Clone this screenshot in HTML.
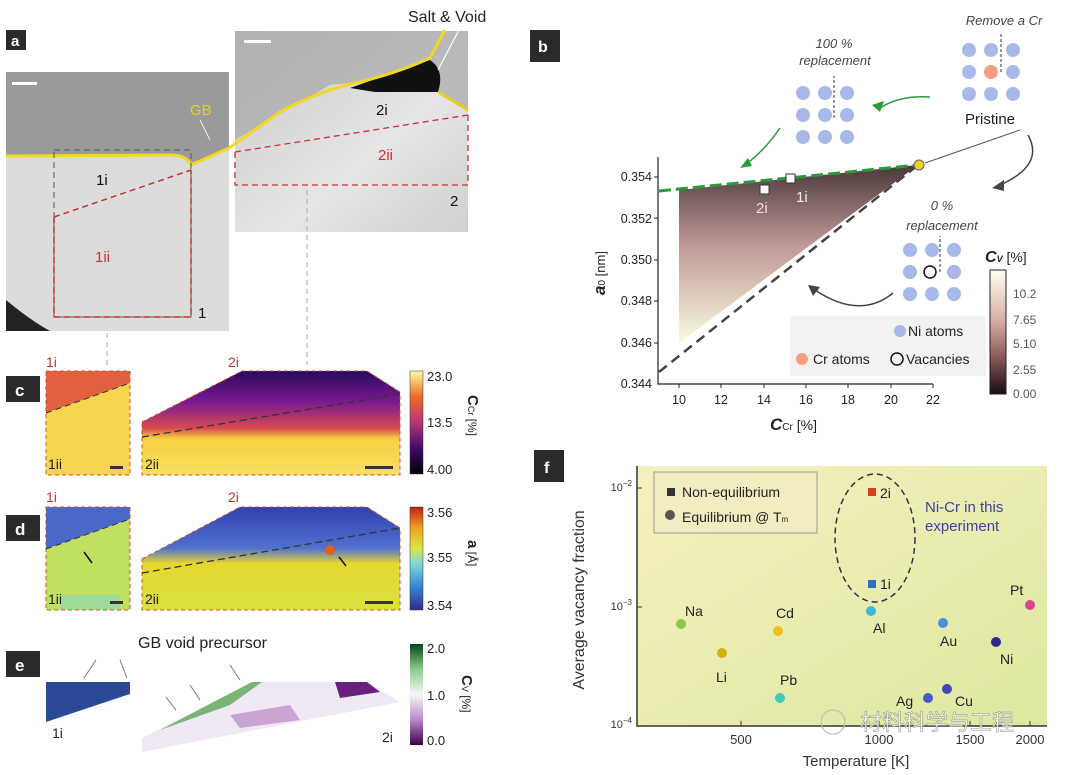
<!DOCTYPE html>
<html><head><meta charset="utf-8"><style>
html,body{margin:0;padding:0;background:#fff;}
svg{display:block;font-family:"Liberation Sans","Noto Sans CJK SC",sans-serif;}
</style></head><body>
<svg width="1068" height="775" viewBox="0 0 1068 775" xmlns="http://www.w3.org/2000/svg">
<defs>
<linearGradient id="ccr" x1="0" y1="1" x2="0" y2="0"><stop offset="0" stop-color="#000004"/><stop offset="0.25" stop-color="#420a68"/><stop offset="0.5" stop-color="#b5367a"/><stop offset="0.75" stop-color="#ed6925"/><stop offset="1" stop-color="#fcffa4"/></linearGradient>
<linearGradient id="acb" x1="0" y1="1" x2="0" y2="0"><stop offset="0" stop-color="#2b2c8c"/><stop offset="0.25" stop-color="#3d8fd8"/><stop offset="0.45" stop-color="#7fd8d8"/><stop offset="0.6" stop-color="#d8e840"/><stop offset="0.8" stop-color="#f0a020"/><stop offset="1" stop-color="#c02010"/></linearGradient>
<linearGradient id="cvb" x1="0" y1="1" x2="0" y2="0"><stop offset="0" stop-color="#40004b"/><stop offset="0.25" stop-color="#b888c8"/><stop offset="0.5" stop-color="#f7f7f7"/><stop offset="0.75" stop-color="#8ccc88"/><stop offset="1" stop-color="#00441b"/></linearGradient>
<linearGradient id="bcb" x1="0" y1="1" x2="0" y2="0"><stop offset="0" stop-color="#1a0a0a"/><stop offset="0.3" stop-color="#8a5a5a"/><stop offset="0.6" stop-color="#d8b0a8"/><stop offset="1" stop-color="#fffff0"/></linearGradient>
<linearGradient id="btri" x1="0" y1="0" x2="0" y2="1"><stop offset="0" stop-color="#4a3838"/><stop offset="0.45" stop-color="#c09898"/><stop offset="1" stop-color="#fafae0"/></linearGradient>
<linearGradient id="fbg" x1="0" y1="0" x2="1" y2="1"><stop offset="0" stop-color="#f6f0c0"/><stop offset="1" stop-color="#dde8a0"/></linearGradient>
<linearGradient id="c2" x1="0" y1="0" x2="0" y2="1"><stop offset="0" stop-color="#2a0a60"/><stop offset="0.3" stop-color="#7a1a90"/><stop offset="0.55" stop-color="#d84a50"/><stop offset="0.65" stop-color="#f6d040"/><stop offset="1" stop-color="#f8e060"/></linearGradient>
<linearGradient id="d2" x1="0" y1="0" x2="0" y2="1"><stop offset="0" stop-color="#3040b0"/><stop offset="0.4" stop-color="#5070d0"/><stop offset="0.55" stop-color="#e8d830"/><stop offset="1" stop-color="#d8e040"/></linearGradient>
<linearGradient id="grayR" x1="0" y1="0" x2="1" y2="1"><stop offset="0" stop-color="#c8c8c8"/><stop offset="0.6" stop-color="#e6e6e6"/><stop offset="1" stop-color="#d0d0d0"/></linearGradient>
</defs>
<!-- panel a -->
<rect x="6" y="30" width="20" height="20" fill="#2a2a2a"/><text x="11" y="46" font-size="15" font-weight="bold" fill="#fff">a</text>
<rect x="6" y="72" width="223" height="259" fill="#dcdcdc"/>
<path d="M6 72 H229 V150 L191 163 Q185 155 170 155 L6 157 Z" fill="#9a9a9a"/>
<path d="M6 300 Q30 320 50 331 H6 Z" fill="#222"/>
<rect x="12" y="82" width="25" height="3" fill="#fff"/>
<path d="M6 156 L170 155 Q187 155 191 165 L229 148" stroke="#f2d820" stroke-width="3" fill="none"/>
<text x="190" y="115" font-size="15" fill="#e8d020">GB</text>
<path d="M200 120 L210 140" stroke="#eee" stroke-width="1"/>
<path d="M54 150 H191 V317 H54 Z" stroke="#555" stroke-dasharray="6,4" fill="none"/>
<path d="M54 217 L191 170 M54 217 V317 H191 V170" stroke="#c83030" stroke-width="1.5" stroke-dasharray="6,4" fill="none"/>
<text x="96" y="185" font-size="15" fill="#111">1i</text>
<text x="95" y="262" font-size="15" fill="#c83030">1ii</text>
<text x="198" y="318" font-size="15" fill="#111">1</text>
<rect x="235" y="31" width="233" height="201" fill="url(#grayR)"/>
<path d="M235 31 H468 V112 L440 92 L420 70 L380 80 L330 85 L235 140 Z" fill="#a8a8a8" opacity="0.7"/>
<path d="M350 88 Q400 70 430 60 Q445 70 438 92 L375 92 Z" fill="#111"/>
<rect x="244" y="40" width="27" height="3" fill="#fff"/>
<path d="M229 148 L280 112 Q320 90 360 82 Q400 72 430 58 L445 30" stroke="#f2d820" stroke-width="3" fill="none"/>
<path d="M438 92 L468 110" stroke="#e8d020" stroke-width="3"/>
<text x="408" y="22" font-size="16" fill="#222">Salt &amp; Void</text>
<path d="M460 28 L438 70" stroke="#fff" stroke-width="1.2"/>
<text x="376" y="115" font-size="15" fill="#111">2i</text>
<path d="M235 152 L468 115 M235 152 V185 H468 V115" stroke="#d03030" stroke-width="1.3" stroke-dasharray="6,4" fill="none"/>
<text x="378" y="160" font-size="15" fill="#d03030">2ii</text>
<text x="450" y="206" font-size="15" fill="#111">2</text>
<path d="M107 333 V365 M307 190 V365" stroke="#aaa" stroke-dasharray="5,4"/>
<!-- panel c -->
<rect x="6" y="376" width="34" height="26" fill="#2a2a2a"/><text x="15" y="396" font-size="17" font-weight="bold" fill="#fff">c</text>
<text x="46" y="367" font-size="14" fill="#c83030">1i</text><text x="228" y="367" font-size="14" fill="#c83030">2i</text>
<path d="M46 371 H130 V383 L46 413 Z" fill="#e06040"/>
<path d="M46 413 L130 383 V475 H46 Z" fill="#f6d450"/>
<path d="M46 371 H130 V475 H46 Z" stroke="#d05030" stroke-dasharray="4,3" fill="none"/>
<path d="M46 413 L130 383" stroke="#333" stroke-dasharray="6,4"/>
<text x="48" y="469" font-size="14" fill="#222">1ii</text><rect x="110" y="466" width="13" height="3" fill="#333"/>
<path d="M142 422 L242 371 H367 L400 392 V475 H142 Z" fill="url(#c2)"/>
<path d="M142 422 L242 371 H367 L400 392 V475 H142 Z" stroke="#d05030" stroke-dasharray="4,3" fill="none"/>
<path d="M142 437 L400 394" stroke="#333" stroke-width="1.3" stroke-dasharray="7,4"/>
<text x="145" y="469" font-size="14" fill="#222">2ii</text><rect x="365" y="466" width="28" height="3" fill="#333"/>
<rect x="410" y="371" width="13" height="103" fill="url(#ccr)" stroke="#333" stroke-width="0.5"/>
<text x="427" y="381" font-size="13" fill="#222">23.0</text><text x="427" y="427" font-size="13" fill="#222">13.5</text><text x="427" y="474" font-size="13" fill="#222">4.00</text>
<text transform="translate(468,395) rotate(90)" font-size="15" font-weight="bold" fill="#222">C<tspan font-size="9" font-weight="normal">Cr</tspan><tspan font-size="12" font-weight="normal"> [%]</tspan></text>
<!-- panel d -->
<rect x="6" y="515" width="34" height="26" fill="#2a2a2a"/><text x="15" y="535" font-size="17" font-weight="bold" fill="#fff">d</text>
<text x="46" y="502" font-size="14" fill="#c83030">1i</text><text x="228" y="502" font-size="14" fill="#c83030">2i</text>
<path d="M46 507 H130 V519 L46 549 Z" fill="#4a68c8"/>
<path d="M46 549 L130 519 V610 H46 Z" fill="#c0e060"/>
<path d="M60 595 H120 V610 H60 Z" fill="#90d8b0" opacity="0.7"/>
<path d="M46 507 H130 V610 H46 Z" stroke="#d05030" stroke-dasharray="4,3" fill="none"/>
<path d="M46 549 L130 519" stroke="#333" stroke-dasharray="6,4"/>
<path d="M92 563 L84 552" stroke="#111" stroke-width="1.5"/>
<text x="48" y="604" font-size="14" fill="#222">1ii</text><rect x="110" y="601" width="13" height="3" fill="#333"/>
<path d="M142 559 L240 507 H367 L400 528 V610 H142 Z" fill="url(#d2)"/>
<path d="M142 559 L240 507 H367 L400 528 V610 H142 Z" stroke="#d05030" stroke-dasharray="4,3" fill="none"/>
<path d="M142 573 L400 528" stroke="#333" stroke-width="1.3" stroke-dasharray="7,4"/>
<ellipse cx="330" cy="550" rx="5" ry="5" fill="#e06020"/>
<path d="M346 566 L339 557" stroke="#111" stroke-width="1.5"/>
<text x="145" y="604" font-size="14" fill="#222">2ii</text><rect x="365" y="601" width="28" height="3" fill="#333"/>
<rect x="410" y="507" width="13" height="103" fill="url(#acb)" stroke="#333" stroke-width="0.5"/>
<text x="427" y="517" font-size="13" fill="#222">3.56</text><text x="427" y="562" font-size="13" fill="#222">3.55</text><text x="427" y="610" font-size="13" fill="#222">3.54</text>
<text transform="translate(468,540) rotate(90)" font-size="15" font-weight="bold" fill="#222">a<tspan font-size="12" font-weight="normal"> [Å]</tspan></text>
<!-- panel e -->
<rect x="6" y="651" width="34" height="26" fill="#2a2a2a"/><text x="15" y="671" font-size="17" font-weight="bold" fill="#fff">e</text>
<text x="138" y="648" font-size="16" fill="#222">GB void precursor</text>
<path d="M46 682 H130 V694 L46 722 Z" fill="#2a4a98"/>
<path d="M142 738 L252 682 H367 L400 702 L142 752 Z" fill="#f0e8f4"/>
<path d="M160 730 L252 682 H262 L230 705 Z" fill="#5aa858" opacity="0.8"/>
<path d="M335 682 H367 L380 692 L340 698 Z" fill="#6a2080"/>
<path d="M230 715 L290 705 L300 720 L240 728 Z" fill="#b888c8" opacity="0.7"/>
<path d="M96 660 L84 678 M120 660 L127 678 M166 697 L176 710 M190 685 L200 700 M230 665 L240 680" stroke="#777" stroke-width="1"/>
<text x="52" y="738" font-size="14" fill="#222">1i</text><text x="382" y="742" font-size="14" fill="#222">2i</text>
<rect x="410" y="644" width="13" height="101" fill="url(#cvb)"/>
<text x="427" y="653" font-size="13" fill="#222">2.0</text><text x="427" y="700" font-size="13" fill="#222">1.0</text><text x="427" y="745" font-size="13" fill="#222">0.0</text>
<text transform="translate(462,675) rotate(90)" font-size="15" font-weight="bold" fill="#222">C<tspan font-size="9" font-weight="normal">V</tspan><tspan font-size="12" font-weight="normal"> [%]</tspan></text>
<!-- panel b -->
<rect x="530" y="30" width="30" height="32" fill="#2a2a2a"/><text x="538" y="52" font-size="16" font-weight="bold" fill="#fff">b</text>
<path d="M679 190 L918 165 L679 343 Z" fill="url(#btri)"/>
<path d="M659 191 L918 165" stroke="#2a9a3a" stroke-width="3" stroke-dasharray="12,5"/>
<path d="M659 372 L918 165" stroke="#444" stroke-width="2.5" stroke-dasharray="10,6"/>
<circle cx="919" cy="165" r="5" fill="#f0d020" stroke="#666"/>
<rect x="760" y="185" width="9" height="9" fill="#fff" stroke="#333"/><rect x="786" y="174" width="9" height="9" fill="#fff" stroke="#333"/>
<text x="756" y="213" font-size="15" fill="#f4dcdc">2i</text><text x="796" y="202" font-size="15" fill="#eee">1i</text>
<path d="M658 157 V384 H933" stroke="#222" stroke-width="1.2" fill="none"/>
<g font-size="12.5" fill="#222" text-anchor="end">
<text x="652" y="181">0.354</text><text x="652" y="223">0.352</text><text x="652" y="264">0.350</text><text x="652" y="305">0.348</text><text x="652" y="347">0.346</text><text x="652" y="388">0.344</text></g>
<g stroke="#222"><path d="M658 177h-4M658 218h-4M658 260h-4M658 301h-4M658 343h-4M679 384v4M721 384v4M764 384v4M806 384v4M848 384v4M891 384v4M933 384v4"/></g>
<g font-size="12.5" fill="#222" text-anchor="middle">
<text x="679" y="404">10</text><text x="721" y="404">12</text><text x="764" y="404">14</text><text x="806" y="404">16</text><text x="848" y="404">18</text><text x="891" y="404">20</text><text x="933" y="404">22</text></g>
<text x="770" y="430" font-size="17" font-weight="bold" fill="#222" font-style="italic">C<tspan font-size="10" font-weight="normal" font-style="normal">Cr</tspan><tspan font-size="14" font-weight="normal" font-style="normal"> [%]</tspan></text>
<text transform="translate(605,295) rotate(-90)" font-size="17" font-weight="bold" fill="#222" font-style="italic">a<tspan font-size="10" font-weight="normal" font-style="normal">0</tspan><tspan font-size="13" font-weight="normal" font-style="normal"> [nm]</tspan></text>
<rect x="790" y="316" width="196" height="60" fill="#f2f2f2"/>
<circle cx="900" cy="331" r="6" fill="#a8b8e8"/><text x="908" y="336" font-size="14" fill="#222">Ni atoms</text>
<circle cx="802" cy="359" r="6" fill="#f4a080"/><text x="813" y="364" font-size="14" fill="#222">Cr atoms</text>
<circle cx="897" cy="359" r="6" fill="none" stroke="#111" stroke-width="1.5"/><text x="906" y="364" font-size="14" fill="#222">Vacancies</text>
<rect x="990" y="270" width="16" height="124" fill="url(#bcb)" stroke="#222"/>
<g font-size="12" fill="#555"><text x="1013" y="298">10.2</text><text x="1013" y="324">7.65</text><text x="1013" y="348">5.10</text><text x="1013" y="374">2.55</text><text x="1013" y="398">0.00</text></g>
<text x="985" y="262" font-size="16" font-weight="bold" font-style="italic" fill="#222">C<tspan font-size="9">V</tspan><tspan font-size="14" font-weight="normal" font-style="normal"> [%]</tspan></text>
<g fill="#a8b8e8">
<circle cx="803" cy="93" r="7"/><circle cx="825" cy="93" r="7"/><circle cx="847" cy="93" r="7"/>
<circle cx="803" cy="115" r="7"/><circle cx="825" cy="115" r="7"/><circle cx="847" cy="115" r="7"/>
<circle cx="803" cy="137" r="7"/><circle cx="825" cy="137" r="7"/><circle cx="847" cy="137" r="7"/>
<circle cx="969" cy="50" r="7"/><circle cx="991" cy="50" r="7"/><circle cx="1013" cy="50" r="7"/>
<circle cx="969" cy="72" r="7"/><circle cx="1013" cy="72" r="7"/>
<circle cx="969" cy="94" r="7"/><circle cx="991" cy="94" r="7"/><circle cx="1013" cy="94" r="7"/>
<circle cx="910" cy="250" r="7"/><circle cx="932" cy="250" r="7"/><circle cx="954" cy="250" r="7"/>
<circle cx="910" cy="272" r="7"/><circle cx="954" cy="272" r="7"/>
<circle cx="910" cy="294" r="7"/><circle cx="932" cy="294" r="7"/><circle cx="954" cy="294" r="7"/></g>
<circle cx="991" cy="72" r="7" fill="#f4a080"/>
<circle cx="930" cy="272" r="6" fill="none" stroke="#111" stroke-width="1.5"/>
<path d="M834 118 V76 M1001 72 V32 M940 272 V236" stroke="#333" stroke-dasharray="3,2"/>
<text x="834" y="48" font-size="13" font-style="italic" fill="#444" text-anchor="middle">100 %</text>
<text x="835" y="65" font-size="13" font-style="italic" fill="#444" text-anchor="middle">replacement</text>
<text x="1004" y="25" font-size="13" font-style="italic" fill="#444" text-anchor="middle">Remove a Cr</text>
<text x="942" y="210" font-size="13" font-style="italic" fill="#444" text-anchor="middle">0 %</text>
<text x="942" y="230" font-size="13" font-style="italic" fill="#444" text-anchor="middle">replacement</text>
<text x="990" y="124" font-size="15" fill="#222" text-anchor="middle">Pristine</text>
<path d="M930 97 Q900 95 880 108" stroke="#2a9a3a" stroke-width="1.5" fill="none"/><path d="M872 105 L884 101 L880 112 Z" fill="#2a9a3a"/>
<path d="M780 128 Q765 150 745 165" stroke="#2a9a3a" stroke-width="1.5" fill="none"/><path d="M740 168 L748 158 L752 166 Z" fill="#2a9a3a"/>
<path d="M1020 130 L925 163" stroke="#555" stroke-width="1"/>
<path d="M1028 135 Q1045 165 1000 185" stroke="#444" stroke-width="1.5" fill="none"/><path d="M992 188 L1004 180 L1004 191 Z" fill="#444"/>
<path d="M893 293 Q860 320 815 290" stroke="#444" stroke-width="1.5" fill="none"/><path d="M808 285 L820 287 L813 296 Z" fill="#444"/>
<!-- panel f -->
<rect x="534" y="450" width="30" height="32" fill="#2a2a2a"/><text x="544" y="473" font-size="16" font-weight="bold" fill="#fff">f</text>
<rect x="637" y="466" width="410" height="260" fill="url(#fbg)"/>
<path d="M637 466 V726 H1047" stroke="#333" stroke-width="1.5" fill="none"/>
<g stroke="#333"><path d="M637 488h5M637 607h5M637 726h5M741 726v-5M879 726v-5M970 726v-5M1030 726v-5"/></g>
<g font-size="11" fill="#333" text-anchor="end"><text x="632" y="491">10<tspan font-size="8" dy="-5">−2</tspan></text><text x="632" y="610">10<tspan font-size="8" dy="-5">−3</tspan></text><text x="632" y="728">10<tspan font-size="8" dy="-5">−4</tspan></text></g>
<g font-size="13" fill="#333" text-anchor="middle"><text x="741" y="744">500</text><text x="879" y="744">1000</text><text x="970" y="744">1500</text><text x="1030" y="744">2000</text></g>
<text x="856" y="766" font-size="15" fill="#333" text-anchor="middle">Temperature [K]</text>
<text transform="translate(584,600) rotate(-90)" font-size="16" fill="#333" text-anchor="middle">Average vacancy fraction</text>
<rect x="654" y="472" width="163" height="61" fill="#f2edc0" stroke="#999"/>
<rect x="667" y="488" width="8" height="8" fill="#333"/><text x="682" y="497" font-size="14" fill="#222">Non-equilibrium</text>
<circle cx="670" cy="515" r="5" fill="#555"/><text x="682" y="522" font-size="14" fill="#222">Equilibrium @ T<tspan font-size="8">m</tspan></text>
<ellipse cx="875" cy="538" rx="40" ry="64" fill="none" stroke="#334" stroke-width="1.5" stroke-dasharray="6,4"/>
<rect x="868" y="488" width="8" height="8" fill="#d04020"/><text x="880" y="498" font-size="14" fill="#222">2i</text>
<rect x="868" y="580" width="8" height="8" fill="#3070c0"/><text x="880" y="589" font-size="14" fill="#222">1i</text>
<text x="925" y="512" font-size="15" fill="#4040a0">Ni-Cr in this</text><text x="925" y="531" font-size="15" fill="#4040a0">experiment</text>
<g font-size="14" fill="#222">
<circle cx="681" cy="624" r="5" fill="#8cc848"/><text x="685" y="616">Na</text>
<circle cx="722" cy="653" r="5" fill="#d0b010"/><text x="716" y="682">Li</text>
<circle cx="778" cy="631" r="5" fill="#f0c020"/><text x="776" y="618">Cd</text>
<circle cx="780" cy="698" r="5" fill="#40c8b8"/><text x="780" y="685">Pb</text>
<circle cx="871" cy="611" r="5" fill="#40b8d8"/><text x="873" y="633">Al</text>
<circle cx="943" cy="623" r="5" fill="#4890d8"/><text x="940" y="646">Au</text>
<circle cx="928" cy="698" r="5" fill="#4858c8"/><text x="896" y="706">Ag</text>
<circle cx="947" cy="689" r="5" fill="#4048b8"/><text x="955" y="706">Cu</text>
<circle cx="996" cy="642" r="5" fill="#302890"/><text x="1000" y="664">Ni</text>
<circle cx="1030" cy="605" r="5" fill="#e04090"/><text x="1010" y="595">Pt</text></g>
<text x="860" y="730" font-size="22" fill="#fff" stroke="#888" stroke-width="0.6" opacity="0.85">材料科学与工程</text>
<circle cx="833" cy="722" r="12" fill="none" stroke="#bbb" stroke-width="1.5" opacity="0.8"/>
</svg>
</body></html>
